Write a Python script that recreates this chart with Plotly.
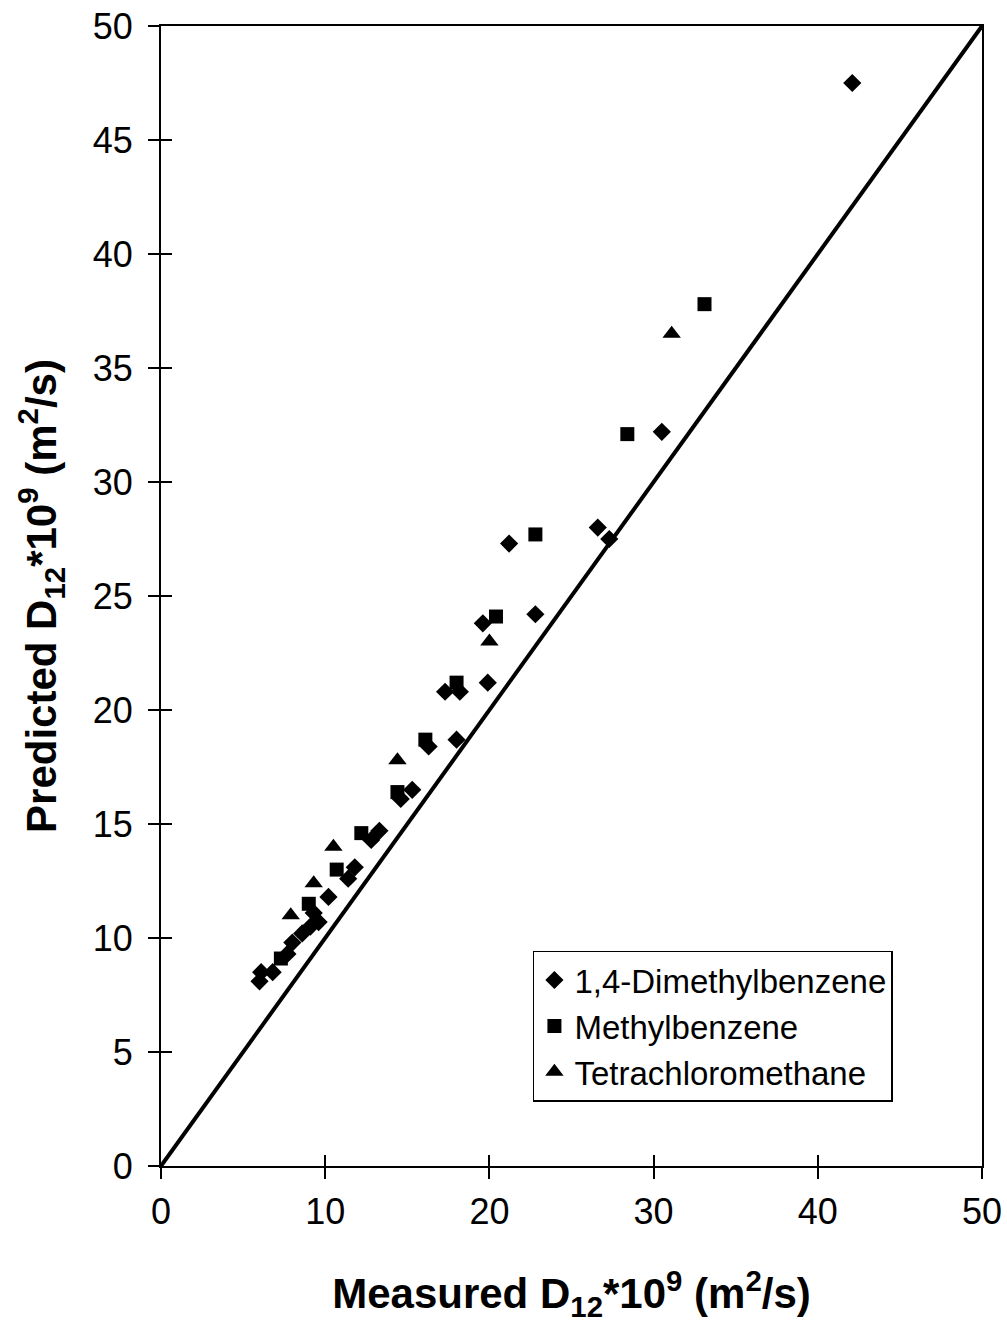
import plotly.graph_objects as go

# 1,4-Dimethylbenzene (diamonds)
dmb_x = [6.0, 6.1, 6.8, 7.7, 8.0, 8.6, 9.1, 9.6, 9.3, 10.2, 11.4, 11.8, 12.8, 13.3,
         14.6, 15.3, 16.3, 17.3, 18.0, 18.2, 19.6, 19.9, 21.2, 22.8, 26.6, 27.3, 30.5, 42.1]
dmb_y = [8.1, 8.5, 8.5, 9.3, 9.8, 10.2, 10.5, 10.7, 11.1, 11.8, 12.6, 13.1, 14.3, 14.7,
         16.1, 16.5, 18.4, 20.8, 18.7, 20.8, 23.8, 21.2, 27.3, 24.2, 28.0, 27.5, 32.2, 47.5]

# Methylbenzene (squares)
mb_x = [7.3, 9.0, 10.7, 12.2, 14.4, 16.1, 18.0, 20.4, 22.8, 28.4, 33.1]
mb_y = [9.1, 11.5, 13.0, 14.6, 16.4, 18.7, 21.2, 24.1, 27.7, 32.1, 37.8]

# Tetrachloromethane (triangles)
tcm_x = [7.9, 9.3, 10.5, 14.4, 20.0, 31.1]
tcm_y = [11.0, 12.4, 14.0, 17.8, 23.0, 36.5]

# Parity line
line_x = [0, 50]
line_y = [0, 50]

tick_vals_x = [0, 10, 20, 30, 40, 50]
tick_vals_y = [0, 5, 10, 15, 20, 25, 30, 35, 40, 45, 50]

FONT = "Liberation Sans, Arial, sans-serif"

fig = go.Figure()
fig.add_trace(go.Scatter(x=line_x, y=line_y, mode="lines",
                         line=dict(color="black", width=4), showlegend=False,
                         hoverinfo="skip"))
fig.add_trace(go.Scatter(x=dmb_x, y=dmb_y, mode="markers", name="1,4-Dimethylbenzene",
                         marker=dict(symbol="diamond", size=14, color="black")))
fig.add_trace(go.Scatter(x=mb_x, y=mb_y, mode="markers", name="Methylbenzene",
                         marker=dict(symbol="square", size=14, color="black")))
fig.add_trace(go.Scatter(x=tcm_x, y=tcm_y, mode="markers", name="Tetrachloromethane",
                         marker=dict(symbol="triangle-up", size=16, color="black")))

axis_common = dict(showline=True, linecolor="black", linewidth=2, mirror=True,
                   showgrid=False, zeroline=False, ticks="outside", ticklen=11,
                   tickwidth=1.5, tickcolor="black",
                   tickfont=dict(family=FONT, size=36, color="black"))

fig.update_layout(
    width=1007, height=1323,
    margin=dict(l=161, r=25, t=26, b=157, autoexpand=False),
    paper_bgcolor="white", plot_bgcolor="white",
    font=dict(family=FONT, color="black"),
    xaxis=dict(range=[0, 50], tickvals=tick_vals_x, ticklabelstandoff=2, **axis_common,
               title=dict(text="<b>Measured D<sub>12</sub>*10<sup>9</sup> (m<sup>2</sup>/s)</b>",
                          font=dict(family=FONT, size=42, color="black"), standoff=52)),
    yaxis=dict(range=[0, 50], tickvals=tick_vals_y, ticklabelstandoff=8, **axis_common,
               title=dict(text="<b>Predicted D<sub>12</sub>*10<sup>9</sup> (m<sup>2</sup>/s)</b>",
                          font=dict(family=FONT, size=42, color="black"), standoff=23)),
    xaxis2=dict(range=[0, 50], tickvals=tick_vals_x, overlaying="x", side="bottom",
                showticklabels=False, ticks="inside", ticklen=11, tickwidth=1.5,
                tickcolor="black", showgrid=False, zeroline=False, showline=False),
    yaxis2=dict(range=[0, 50], tickvals=tick_vals_y, overlaying="y", side="left",
                showticklabels=False, ticks="inside", ticklen=11, tickwidth=1.5,
                tickcolor="black", showgrid=False, zeroline=False, showline=False),
    legend=dict(x=0.453, y=0.189, xanchor="left", yanchor="top",
                bgcolor="white", bordercolor="black", borderwidth=1.5,
                font=dict(family=FONT, size=33, color="black"),
                itemwidth=30, tracegroupgap=0),
)
# invisible trace to activate the secondary (inside tick) axes
fig.add_trace(go.Scatter(x=[None], y=[None], xaxis="x2", yaxis="y2",
                         showlegend=False, hoverinfo="skip"))

fig.write_html("out.html")
